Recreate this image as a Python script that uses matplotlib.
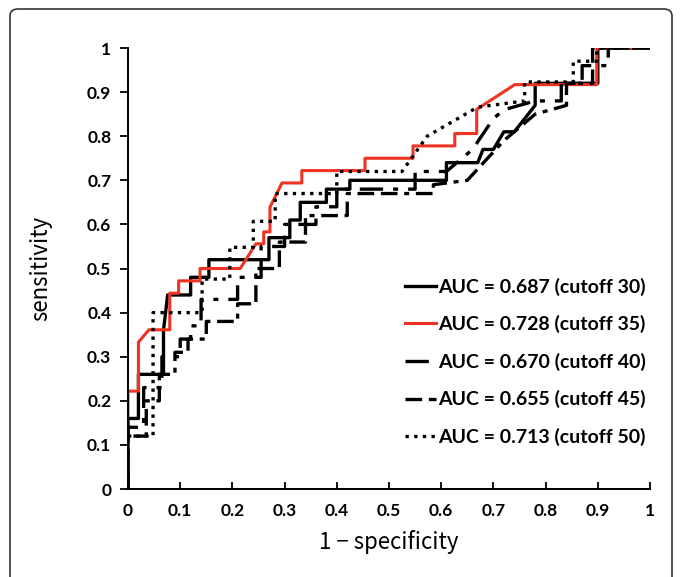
import matplotlib.pyplot as plt
from matplotlib.patches import FancyBboxPatch

# ROC curves: (1 - specificity, sensitivity) vertices
fpr_30 = [0, 0, 0.02, 0.02, 0.068, 0.068, 0.076, 0.12, 0.12, 0.155, 0.155, 0.27, 0.27,
          0.31, 0.31, 0.33, 0.33, 0.38, 0.38, 0.425, 0.425, 0.61, 0.61, 0.67, 0.68,
          0.70, 0.72, 0.74, 0.78, 0.78, 0.90, 0.90, 1]
tpr_30 = [0, 0.16, 0.16, 0.26, 0.26, 0.36, 0.44, 0.44, 0.48, 0.48, 0.52, 0.52, 0.57,
          0.57, 0.61, 0.61, 0.65, 0.65, 0.68, 0.68, 0.70, 0.70, 0.74, 0.74, 0.77,
          0.77, 0.81, 0.81, 0.87, 0.92, 0.92, 1.0, 1.0]

fpr_35 = [0, 0, 0.02, 0.02, 0.04, 0.08, 0.08, 0.097, 0.097, 0.138, 0.138, 0.215, 0.245,
          0.26, 0.26, 0.272, 0.272, 0.295, 0.333, 0.333, 0.454, 0.454, 0.546, 0.546,
          0.626, 0.626, 0.668, 0.668, 0.741, 0.898, 0.898, 1]
tpr_35 = [0.167, 0.222, 0.222, 0.333, 0.361, 0.361, 0.444, 0.444, 0.472, 0.472, 0.5,
          0.5, 0.556, 0.556, 0.583, 0.583, 0.639, 0.694, 0.694, 0.722, 0.722, 0.75,
          0.75, 0.778, 0.778, 0.806, 0.806, 0.861, 0.917, 0.917, 1.0, 1.0]

fpr_40 = [0, 0, 0.03, 0.03, 0.065, 0.065, 0.10, 0.10, 0.12, 0.12, 0.14, 0.14, 0.21,
          0.21, 0.255, 0.255, 0.30, 0.30, 0.36, 0.36, 0.40, 0.40, 0.55, 0.55, 0.61,
          0.66, 0.70, 0.72, 0.78, 0.83, 0.83, 0.87, 0.87, 0.92, 0.92, 1]
tpr_40 = [0, 0.14, 0.14, 0.23, 0.23, 0.30, 0.30, 0.34, 0.34, 0.37, 0.37, 0.43, 0.43,
          0.48, 0.48, 0.55, 0.55, 0.60, 0.60, 0.64, 0.64, 0.68, 0.68, 0.72, 0.72,
          0.77, 0.84, 0.86, 0.88, 0.88, 0.92, 0.92, 0.96, 0.96, 1.0, 1.0]

fpr_45 = [0, 0, 0.035, 0.035, 0.06, 0.06, 0.09, 0.09, 0.115, 0.115, 0.15, 0.15, 0.21,
          0.21, 0.245, 0.245, 0.29, 0.29, 0.34, 0.34, 0.42, 0.42, 0.585, 0.585, 0.65,
          0.72, 0.78, 0.84, 0.84, 0.89, 0.89, 1]
tpr_45 = [0, 0.12, 0.12, 0.20, 0.20, 0.26, 0.26, 0.31, 0.31, 0.34, 0.34, 0.38, 0.38,
          0.42, 0.42, 0.50, 0.50, 0.56, 0.56, 0.62, 0.62, 0.67, 0.67, 0.69, 0.70,
          0.79, 0.85, 0.87, 0.92, 0.92, 1.0, 1.0]

fpr_50 = [0, 0.01, 0.048, 0.048, 0.142, 0.142, 0.195, 0.195, 0.24, 0.24, 0.282, 0.282,
          0.40, 0.40, 0.525, 0.573, 0.67, 0.76, 0.76, 0.853, 0.853, 0.898, 0.898, 1]
tpr_50 = [0.12, 0.12, 0.12, 0.40, 0.40, 0.476, 0.476, 0.548, 0.548, 0.607, 0.607,
          0.67, 0.67, 0.72, 0.72, 0.80, 0.866, 0.88, 0.923, 0.923, 0.97, 0.97, 1.0, 1.0]

labels = ['AUC = 0.687 (cutoff 30)', 'AUC = 0.728 (cutoff 35)',
          'AUC = 0.670 (cutoff 40)', 'AUC = 0.655 (cutoff 45)',
          'AUC = 0.713 (cutoff 50)']

fig = plt.figure(figsize=(6.83, 5.77), dpi=100)
ax = fig.add_axes([0.1874, 0.1525, 0.7643, 0.7643])

# outer rounded frame (bottom runs off the image)
frame = FancyBboxPatch((10 / 683, -0.05), 662 / 683, 1 - 9 / 577 + 0.05,
                       boxstyle='round,pad=0,rounding_size=0.012',
                       transform=fig.transFigure, fill=False, ec='#333333', lw=1.2,
                       clip_on=False)
fig.patches.append(frame)

lw = 2.4
ax.plot(fpr_30, tpr_30, color='black', lw=lw, label=labels[0])
ax.plot(fpr_35, tpr_35, color='#ee3322', lw=2.2, label=labels[1])
ax.plot(fpr_40, tpr_40, color='black', lw=lw, dashes=(7, 3, 1.5, 3), label=labels[2])
ax.plot(fpr_45, tpr_45, color='black', lw=lw, dashes=(5, 2, 5, 2, 1.5, 2), label=labels[3])
ax.plot(fpr_50, tpr_50, color='black', lw=lw, dashes=(1, 1.6), label=labels[4])

ax.set_xlim(0, 1)
ax.set_ylim(0, 1)
ticks = [i / 10 for i in range(11)]
ticklabels = ['0', '0.1', '0.2', '0.3', '0.4', '0.5', '0.6', '0.7', '0.8', '0.9', '1']
ax.set_xticks(ticks)
ax.set_xticklabels(ticklabels)
ax.set_yticks(ticks)
ax.set_yticklabels(ticklabels)
for lab in ax.get_xticklabels() + ax.get_yticklabels():
    lab.set_fontfamily('Lato')
    lab.set_fontweight('bold')
    lab.set_fontsize(12.5)
ax.tick_params(axis='x', direction='in', length=5, width=1.3, pad=10)
ax.tick_params(axis='y', direction='out', length=6, width=1.3, pad=6)
for side in ['top', 'right']:
    ax.spines[side].set_visible(False)
for side in ['left', 'bottom']:
    ax.spines[side].set_linewidth(1.4)

ax.set_xlabel('1 \u2212 specificity', fontsize=16, family='Noto Sans CJK JP', labelpad=8)
ax.set_ylabel('sensitivity', fontsize=16, family='Noto Sans CJK JP', labelpad=25)

ax.legend(loc='lower right', bbox_to_anchor=(1.025, 0.058), frameon=False,
          prop={'family': 'Lato', 'weight': 'bold', 'size': 14},
          handlelength=1.6, handletextpad=0.1, labelspacing=1.0)

fig.savefig('out.png', dpi=100)
